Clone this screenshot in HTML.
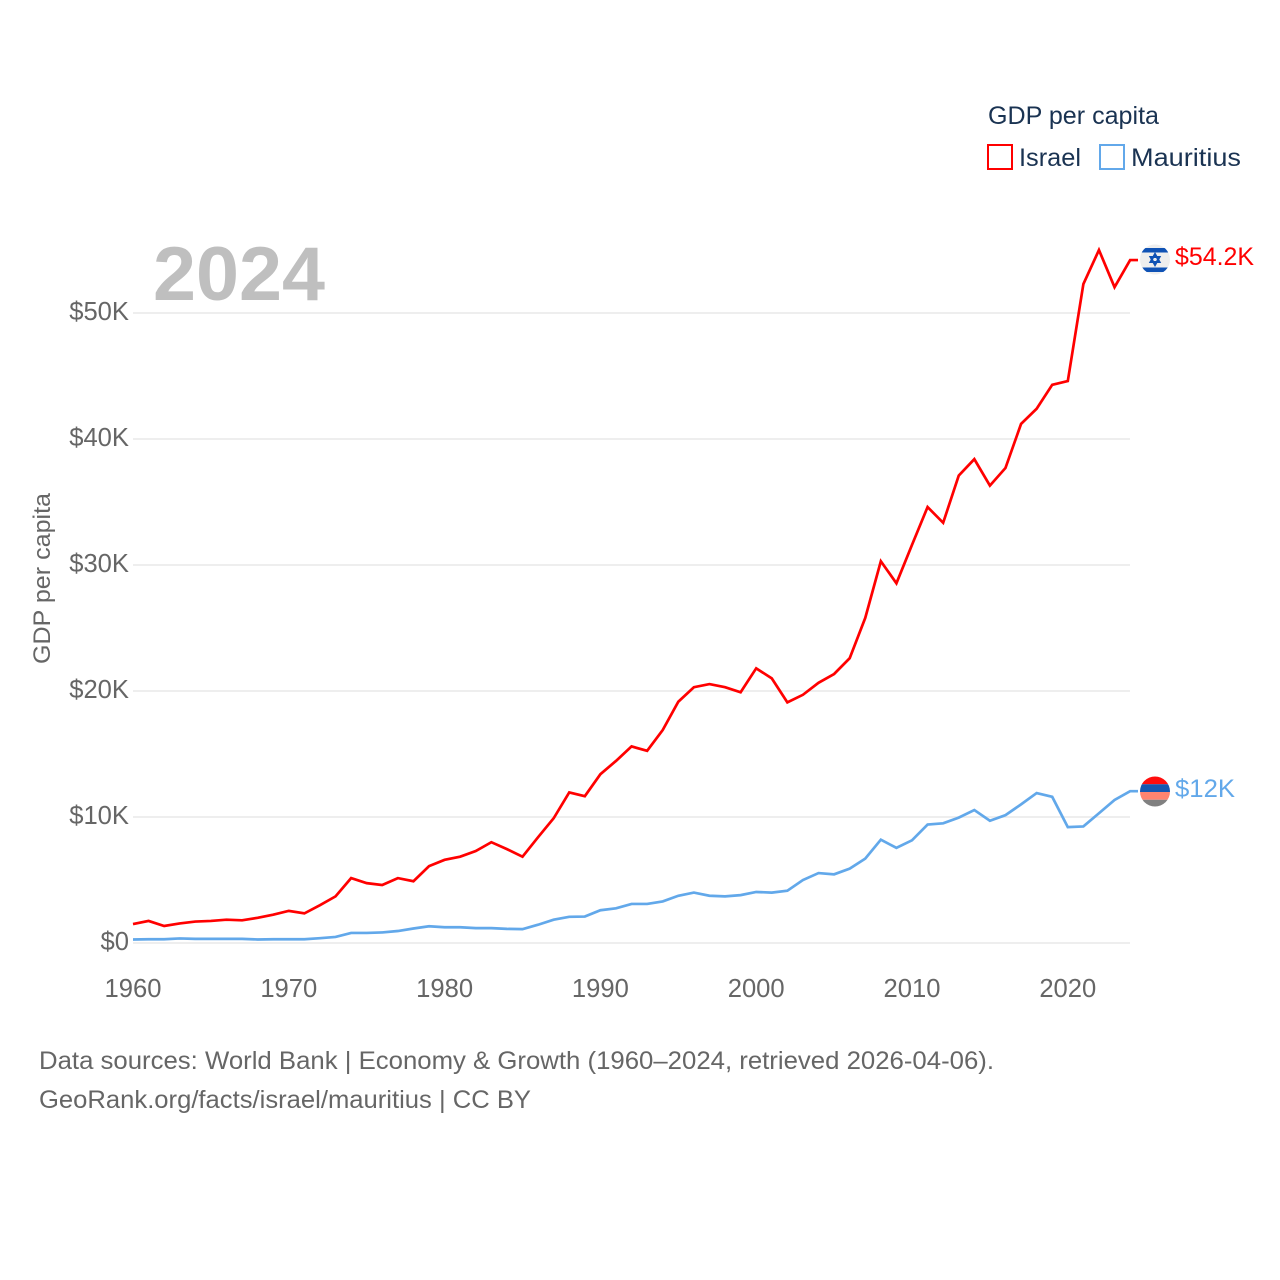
<!DOCTYPE html>
<html lang="en">
<head>
<meta charset="utf-8">
<title>GDP per capita: Israel and Mauritius</title>
<style>
html,body{margin:0;padding:0;background:#fff;}
svg{display:block;}
text{font-family:"Liberation Sans",sans-serif;}
</style>
</head>
<body>
<svg id="chart" xmlns="http://www.w3.org/2000/svg" width="1280" height="1280" viewBox="0 0 1280 1280">
  <rect width="1280" height="1280" fill="#fff"/>
  <g id="grid"></g>
  <g id="yticks"></g>
  <g id="xticks"></g>
  <text x="153" y="300" font-size="76" font-weight="700" fill="#bfbfbf" textLength="172" lengthAdjust="spacingAndGlyphs">2024</text>
  <text transform="translate(50,664) rotate(-90)" font-size="24" fill="#666" textLength="171" lengthAdjust="spacingAndGlyphs">GDP per capita</text>
  <g id="series"></g>

  <g>
    <text x="988" y="124" font-size="25" fill="#1a3352" textLength="171" lengthAdjust="spacingAndGlyphs">GDP per capita</text>
    <rect x="988" y="145" width="24" height="24" fill="none" stroke="#ff0000" stroke-width="2"/>
    <text x="1019" y="166" font-size="25" fill="#1a3352" textLength="62" lengthAdjust="spacingAndGlyphs">Israel</text>
    <rect x="1100" y="145" width="24" height="24" fill="none" stroke="#62a8ea" stroke-width="2"/>
    <text x="1131" y="166" font-size="25" fill="#1a3352" textLength="110" lengthAdjust="spacingAndGlyphs">Mauritius</text>
  </g>

  <defs>
    <clipPath id="clip-il"><circle cx="1155" cy="259.5" r="15"/></clipPath>
    <clipPath id="clip-mu"><circle cx="1155" cy="791.5" r="15"/></clipPath>
  </defs>
  <g id="flag-il" clip-path="url(#clip-il)">
    <rect x="1140" y="244" width="30" height="31" fill="#eeeeee"/>
    <rect x="1140" y="248" width="30" height="4.5" fill="#0f52b5"/>
    <rect x="1140" y="267.5" width="30" height="4.5" fill="#0f52b5"/>
    <polygon points="1155,254 1159.5,262 1150.5,262" fill="none" stroke="#0f52b5" stroke-width="2"/>
    <polygon points="1155,265 1159.5,257 1150.5,257" fill="none" stroke="#0f52b5" stroke-width="2"/>
  </g>
  <g id="flag-mu" clip-path="url(#clip-mu)">
    <rect x="1140" y="776.5" width="30" height="7.75" fill="#ff0d0d"/>
    <rect x="1140" y="784.25" width="30" height="7.75" fill="#1557b0"/>
    <rect x="1140" y="792" width="30" height="7.75" fill="#ff8470"/>
    <rect x="1140" y="799.75" width="30" height="7.75" fill="#808080"/>
  </g>
  <text id="end-il" x="1175" y="265" font-size="25" fill="#ff0000" textLength="79" lengthAdjust="spacingAndGlyphs"></text>
  <text id="end-mu" x="1175" y="797" font-size="25" fill="#62a8ea" textLength="60" lengthAdjust="spacingAndGlyphs"></text>

  <text x="39" y="1069" font-size="25" fill="#666" textLength="955" lengthAdjust="spacingAndGlyphs">Data sources: World Bank | Economy &amp; Growth (1960–2024, retrieved 2026-04-06).</text>
  <text x="39" y="1108" font-size="25" fill="#666" textLength="492" lengthAdjust="spacingAndGlyphs">GeoRank.org/facts/israel/mauritius | CC BY</text>
</svg>
<script>
const firstYear = 1960;
const xTickYears = [1960, 1970, 1980, 1990, 2000, 2010, 2020];
const yTickValues = [0, 10, 20, 30, 40, 50];
const yTickLabels = ["$0", "$10K", "$20K", "$30K", "$40K", "$50K"];
const israelValues = [1.5, 1.75, 1.35, 1.55, 1.7, 1.75, 1.85, 1.8, 2.0, 2.25,
  2.55, 2.35, 3.0, 3.7, 5.15, 4.75, 4.6, 5.15, 4.9, 6.1,
  6.6, 6.85, 7.3, 8.0, 7.45, 6.85, 8.4, 9.9, 11.95, 11.65,
  13.4, 14.45, 15.6, 15.25, 16.9, 19.15, 20.3, 20.55, 20.3, 19.9,
  21.8, 21.0, 19.1, 19.7, 20.65, 21.35, 22.6, 25.8, 30.3, 28.55,
  31.6, 34.6, 33.35, 37.1, 38.4, 36.3, 37.7, 41.2, 42.4, 44.3,
  44.6, 52.3, 55.0, 52.05, 54.2];
const mauritiusValues = [0.28, 0.3, 0.3, 0.36, 0.33, 0.33, 0.33, 0.33, 0.28, 0.3,
  0.3, 0.3, 0.38, 0.48, 0.8, 0.8, 0.84, 0.95, 1.15, 1.33,
  1.25, 1.25, 1.18, 1.18, 1.12, 1.1, 1.45, 1.85, 2.08, 2.1,
  2.6, 2.75, 3.1, 3.1, 3.3, 3.75, 4.0, 3.75, 3.7, 3.8,
  4.05, 4.0, 4.15, 5.0, 5.55, 5.45, 5.9, 6.7, 8.2, 7.55,
  8.15, 9.4, 9.5, 9.95, 10.55, 9.7, 10.15, 11.0, 11.9, 11.6,
  9.2, 9.25, 10.3, 11.35, 12.05];
const endLabels = ["$54.2K", "$12K"];

const NS = "http://www.w3.org/2000/svg";
function xScale(year) { return 133 + (year - 1960) * 15.58; }
function yScale(value) { return 943 - value * 12.6; }

const gridGroup = document.getElementById("grid");
const yTickGroup = document.getElementById("yticks");
const xTickGroup = document.getElementById("xticks");
const seriesGroup = document.getElementById("series");

yTickValues.forEach(function (v, i) {
  const line = document.createElementNS(NS, "line");
  
  
  line.setAttribute("x1", 133);
  line.setAttribute("x2", 1130);
  line.setAttribute("y1", yScale(v));
  line.setAttribute("y2", yScale(v));
  line.setAttribute("stroke", "#eeeeee");
  line.setAttribute("stroke-width", 2);
  gridGroup.appendChild(line);

  const label = document.createElementNS(NS, "text");
  
  
  label.setAttribute("x", 129);
  label.setAttribute("y", yScale(v) + 7);
  label.setAttribute("text-anchor", "end");
  label.setAttribute("font-size", 25.6);
  label.setAttribute("fill", "#666");
  label.textContent = yTickLabels[i];
  yTickGroup.appendChild(label);
});

xTickYears.forEach(function (year) {
  const label = document.createElementNS(NS, "text");
  
  
  label.setAttribute("x", xScale(year));
  label.setAttribute("y", 997);
  label.setAttribute("text-anchor", "middle");
  label.setAttribute("font-size", 25.6);
  label.setAttribute("fill", "#666");
  label.textContent = String(year);
  xTickGroup.appendChild(label);
});

function seriesPoints(values) {
  const pts = values.map(function (v, i) {
    return xScale(firstYear + i).toFixed(2) + "," + yScale(v).toFixed(2);
  });
  const lastY = yScale(values[values.length - 1]).toFixed(2);
  pts.push("1138," + lastY);
  return pts.join(" ");
}

const israelLine = document.createElementNS(NS, "polyline");


israelLine.setAttribute("points", seriesPoints(israelValues));
israelLine.setAttribute("fill", "none");
israelLine.setAttribute("stroke", "#ff0000");
israelLine.setAttribute("stroke-width", 2.7);
israelLine.setAttribute("stroke-linejoin", "miter");
seriesGroup.appendChild(israelLine);

const mauritiusLine = document.createElementNS(NS, "polyline");


mauritiusLine.setAttribute("points", seriesPoints(mauritiusValues));
mauritiusLine.setAttribute("fill", "none");
mauritiusLine.setAttribute("stroke", "#62a8ea");
mauritiusLine.setAttribute("stroke-width", 2.7);
mauritiusLine.setAttribute("stroke-linejoin", "miter");
seriesGroup.appendChild(mauritiusLine);

document.getElementById("end-il").textContent = endLabels[0];
document.getElementById("end-mu").textContent = endLabels[1];
</script>
</body>
</html>
